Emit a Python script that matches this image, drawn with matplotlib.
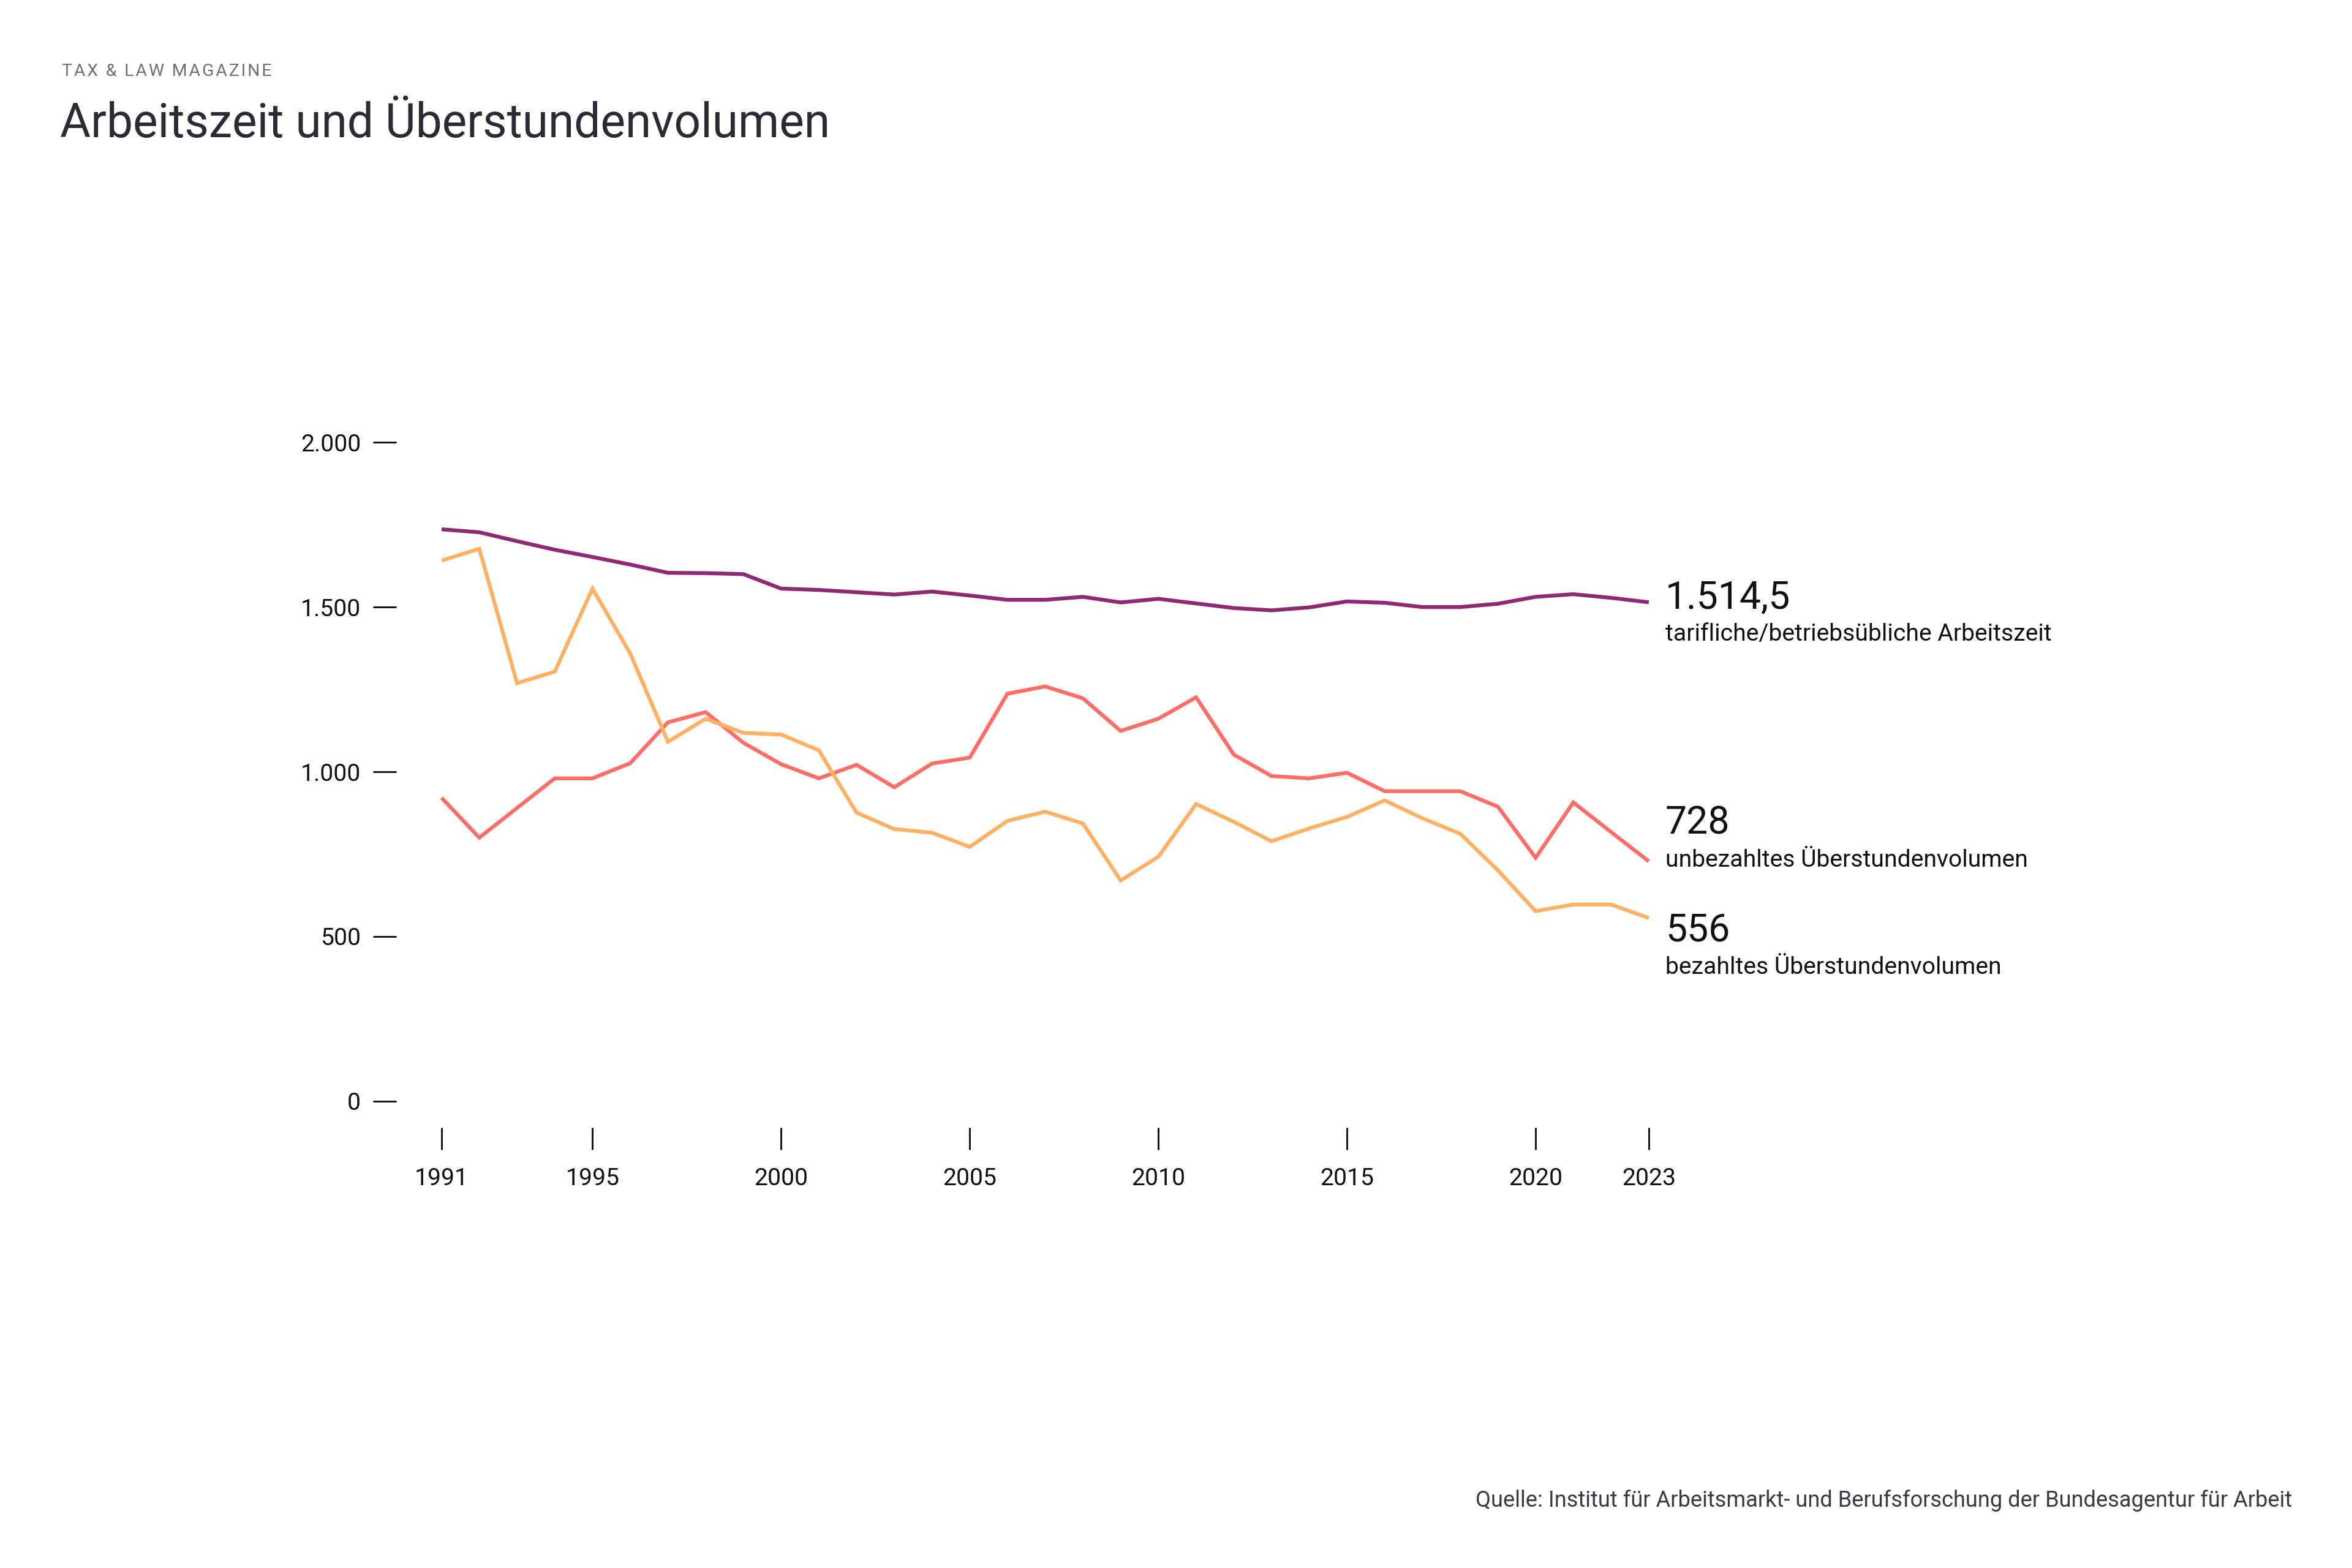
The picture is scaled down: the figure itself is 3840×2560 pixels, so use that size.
import matplotlib
matplotlib.use("Agg")
import matplotlib.pyplot as plt

plt.rcParams['font.family'] = ['Roboto', 'DejaVu Sans']

# Daten, Stunden je Jahr
years = list(range(1991, 2024))

arbeitszeit = [1736, 1727, 1700, 1674, 1652, 1629, 1604, 1603, 1600, 1556,
               1552, 1545, 1538, 1547, 1535, 1522, 1522, 1531, 1514, 1525,
               1511, 1497, 1490, 1499, 1517, 1513, 1500, 1500, 1510, 1531,
               1539, 1528, 1514.5]

unbezahlt = [921, 800, 890, 980, 980, 1026, 1150, 1181, 1088, 1023,
             980, 1021, 953, 1025, 1043, 1237, 1259, 1223, 1124, 1161,
             1226, 1052, 987, 980, 997, 941, 941, 941, 894, 739,
             907, 817, 728]

bezahlt = [1641, 1677, 1269, 1304, 1556, 1359, 1091, 1161, 1118, 1113,
           1065, 876, 826, 815, 772, 851, 879, 843, 670, 742,
           902, 848, 789, 828, 863, 913, 859, 812, 701, 577,
           597, 597, 556]

series_names = ['tarifliche/betriebsübliche Arbeitszeit',
                'unbezahltes Überstundenvolumen',
                'bezahltes Überstundenvolumen']
end_labels = ['1.514,5', '728', '556']

x_ticks = [1991, 1995, 2000, 2005, 2010, 2015, 2020, 2023]
y_ticks = [0, 500, 1000, 1500, 2000]
y_tick_labels = ['0', '500', '1.000', '1.500', '2.000']

colors = ['#8e2a73', '#ff6f68', '#ffb266']
# Versatz der Endbeschriftungen (Zahl, Text) in Punkt
label_offsets = [(-2.4, -15.0), (10.8, -2.2), (-9.1, -21.8)]

fig = plt.figure(figsize=(12.8, 2560 / 300), dpi=300)
ax = fig.add_axes([0.1685, 0.2809, 0.5346, 0.4496])

for vals, col in zip([arbeitszeit, unbezahlt, bezahlt], colors):
    ax.plot(years, vals, color=col, linewidth=1.5, solid_joinstyle='miter',
            solid_capstyle='butt')

ax.set_xlim(1989.80, 2023.13)
ax.set_ylim(-80, 2060)

for s in ax.spines.values():
    s.set_visible(False)

ax.set_xticks(x_ticks)
ax.set_xticklabels([str(y) for y in x_ticks])
ax.set_yticks(y_ticks)
ax.set_yticklabels(y_tick_labels)
ax.tick_params(axis='y', direction='out', length=9.1, width=0.7,
               pad=4.8, labelsize=9.4, colors='#111111')
ax.tick_params(axis='x', direction='out', length=8.6, width=0.7,
               pad=7.0, labelsize=9.4, colors='#111111')

# Endbeschriftungen
for vals, name, lab, (dn, dt) in zip([arbeitszeit, unbezahlt, bezahlt],
                                      series_names, end_labels, label_offsets):
    ax.annotate(lab, xy=(years[-1], vals[-1]), xytext=(6.5, dn),
                textcoords='offset points', fontsize=15.0, color='#111111',
                ha='left', va='baseline')
    ax.annotate(name, xy=(years[-1], vals[-1]), xytext=(6.5, dt),
                textcoords='offset points', fontsize=9.4, color='#111111',
                ha='left', va='baseline')

# leichte Sperrung wie in der Vorlage
kicker = '\u200a'.join('TAX & LAW MAGAZINE')
fig.text(0.0263, 0.9516, kicker, fontsize=6.8, color='#6f6f7b',
         ha='left', va='baseline')
fig.text(0.0255, 0.9125, 'Arbeitszeit und Überstundenvolumen', fontsize=18.4,
         color='#2b2b36', ha='left', va='baseline')
fig.text(0.9745, 0.0391,
         'Quelle: Institut für Arbeitsmarkt- und Berufsforschung der Bundesagentur für Arbeit',
         fontsize=8.7, color='#3a3a44', ha='right', va='baseline')

fig.savefig('out.png', dpi=300, facecolor='white')
